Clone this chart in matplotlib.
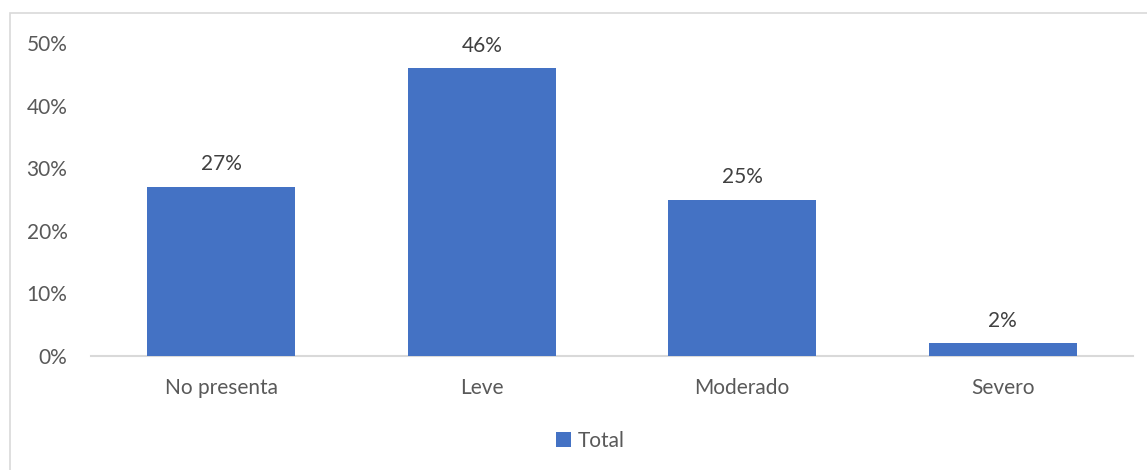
import matplotlib
matplotlib.use("Agg")
import matplotlib.pyplot as plt
from matplotlib.patches import Rectangle
from matplotlib.ticker import FuncFormatter

categories = ["No presenta", "Leve", "Moderado", "Severo"]
values = [27, 46, 25, 2]
yticks = [0, 10, 20, 30, 40, 50]
series_name = "Total"

plt.rcParams['font.family'] = ['Lato', 'DejaVu Sans']
FS = 15

fig = plt.figure(figsize=(11.47, 4.70), dpi=100)
# outer chart frame
fig.patches.append(Rectangle((10/1147, -0.01), 1.0, 1 - 13/470 + 0.01, transform=fig.transFigure,
                             fill=False, edgecolor="#D9D9D9", linewidth=1.2))

ax = fig.add_axes([91/1147, 1 - 356/470, (1133 - 91)/1147, (356 - 43)/470])
x = list(range(len(categories)))
bars = ax.bar(x, values, width=0.567, color="#4472C4", label=series_name, zorder=3)
for xi, v in zip(x, values):
    ax.annotate(f"{v}%", (xi, v), xytext=(0, 9), textcoords="offset points",
                ha="center", va="bottom", fontsize=FS, color="#404040")

ax.set_xlim(-0.5, len(categories) - 0.5)
ax.set_ylim(0, 50)
ax.set_yticks(yticks)
ax.yaxis.set_major_formatter(FuncFormatter(lambda v, p: f"{int(v)}%"))
ax.set_xticks(x)
ax.set_xticklabels(categories)
ax.tick_params(axis="both", length=0, labelsize=FS, labelcolor="#595959")
ax.tick_params(axis="y", pad=17)
ax.tick_params(axis="x", pad=16)
for s in ["top", "right", "left"]:
    ax.spines[s].set_visible(False)
ax.spines["bottom"].set_color("#D9D9D9")
ax.spines["bottom"].set_linewidth(1.5)

leg = fig.legend(handles=[bars], labels=[series_name], loc="center", bbox_to_anchor=(590/1147, 1 - 441/470),
                 frameon=False, fontsize=FS, handlelength=0.75, handleheight=0.75, handletextpad=0.3)
for t in leg.get_texts():
    t.set_color("#595959")

fig.savefig("out.png", dpi=100)
